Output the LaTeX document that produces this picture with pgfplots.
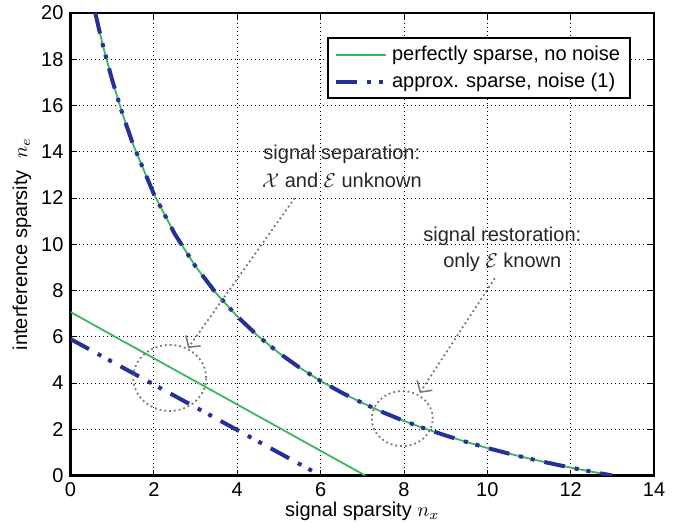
\documentclass[border=0pt]{standalone}
\usepackage{fontspec}
\setmainfont{Liberation Sans}
\usepackage{pgfplots}
\pgfplotsset{compat=1.18}
\usepackage{pgfplotstable}
\usetikzlibrary{arrows.meta}

\definecolor{mgreen}{RGB}{60,182,95}
\definecolor{mblue}{RGB}{38,48,150}
\definecolor{annot}{RGB}{120,120,120}

% restoration bound (support of e known)
\pgfplotstableread{
nx ne
0.595 20.00
0.70 19.18
0.80 18.44
1.00 17.10
1.25 15.62
1.50 14.32
2.00 12.17
2.50 10.45
3.00 9.04
3.50 7.87
4.00 6.88
4.50 6.03
5.00 5.30
5.50 4.66
6.00 4.09
6.50 3.59
7.00 3.14
7.50 2.73
8.00 2.36
8.50 2.03
9.00 1.73
9.50 1.45
10.00 1.19
10.50 0.954
11.00 0.735
11.50 0.532
12.00 0.342
12.50 0.165
13.00 0.00
}\restor

\begin{document}
\begin{tikzpicture}[font=\fontsize{10}{12}\selectfont]
\begin{axis}[
  scale only axis, width=291.75pt, height=231.25pt,
  xmin=0, xmax=14, ymin=0, ymax=20,
  xtick={0,2,...,14}, ytick={0,2,...,20},
  grid=major,
  major grid style={black, line width=0.4pt, dash pattern=on 0.4pt off 1.6pt},
  axis line style={line width=1.2pt},
  tick align=inside, major tick length=3pt,
  tick style={black, line width=0.4pt},
  /pgf/number format/assume math mode=true,
  tick label style={font=\fontsize{10}{12}\selectfont},
  xlabel={signal sparsity $n_x$},
  ylabel={interference sparsity\ \ $n_e$},
  xlabel style={at={(axis description cs:0.5,-0.078)}, anchor=center},
  ylabel style={at={(axis description cs:-0.083,0.5)}, anchor=center},
  legend style={at={(0.9606,0.9475)}, anchor=north east, draw=black,
    line width=1pt, font=\fontsize{10}{12}\selectfont, row sep=0.5pt,
    inner xsep=3pt, inner ysep=2pt},
  legend cell align=left,
  legend image code/.code={\draw[#1] (0pt,0pt) -- (25pt,0pt);},
]
\addplot[mgreen, line width=0.9pt] table {\restor};
\addlegendentry{perfectly sparse, no noise}
\addplot[mblue, line width=2pt,
  dash pattern=on 10.5pt off 5pt on 2pt off 4pt on 2pt off 5pt] table {\restor};
\addlegendentry{approx. sparse, noise (1)}
\addplot[mgreen, line width=0.9pt, forget plot] coordinates {(0,7.07) (7.07,0)};
\addplot[mblue, line width=2pt, forget plot,
  dash pattern=on 10.5pt off 5pt on 2pt off 4pt on 2pt off 5pt]
  coordinates {(0,5.9) (6,0)};

\node[align=center, text=black!85, font=\fontsize{10}{14}\selectfont]
  at (axis cs:6.51,13.38) {signal separation:\\$\mathcal{X}$ and $\mathcal{E}$ unknown};
\node[align=center, text=black!85, font=\fontsize{10}{13}\selectfont]
  at (axis cs:10.36,9.76) {signal restoration:\\only $\mathcal{E}$ known};

\draw[annot, line width=0.9pt, dash pattern=on 0.9pt off 1.5pt]
  (axis cs:2.38,4.22) ellipse [x radius=18.25pt, y radius=16.5pt];
\draw[annot, line width=0.9pt, dash pattern=on 0.9pt off 1.5pt]
  (axis cs:7.96,2.46) ellipse [x radius=15.25pt, y radius=13.75pt];
\draw[annot, line width=0.9pt, dash pattern=on 0.9pt off 1.5pt,
  -{Straight Barb[length=4pt, width=9pt, line width=0.8pt]}]
  (axis cs:5.38,12.0) -- (axis cs:2.82,5.51);
\draw[annot, line width=0.9pt, dash pattern=on 0.9pt off 1.5pt,
  -{Straight Barb[length=4pt, width=9pt, line width=0.8pt]}]
  (axis cs:10.18,8.53) -- (axis cs:8.38,3.57);
\end{axis}
\pgfresetboundingbox
\path ([shift={(-35.25pt,-26.75pt)}]current axis.south west)
  rectangle ([shift={(17pt,6.5pt)}]current axis.north east);
\end{tikzpicture}
\end{document}
